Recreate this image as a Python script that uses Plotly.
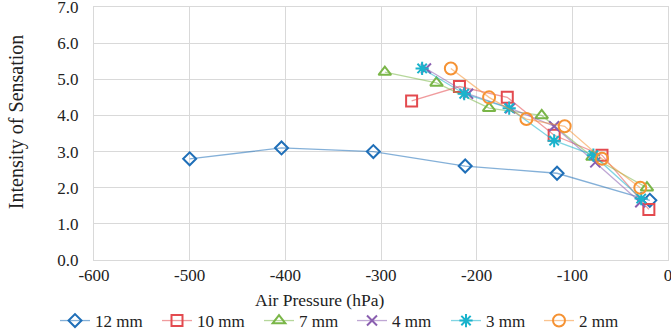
import plotly.graph_objects as go

names = ["12 mm", "10 mm", "7 mm", "4 mm", "3 mm", "2 mm"]
x12 = [-500, -404, -308, -212, -116, -19]
y12 = [2.8, 3.1, 3.0, 2.6, 2.4, 1.65]
x10 = [-268, -218, -168, -119, -69, -20]
y10 = [4.4, 4.8, 4.5, 3.45, 2.9, 1.4]
x7 = [-296, -242, -187, -132, -79, -22]
y7 = [5.2, 4.9, 4.2, 4.0, 2.85, 2.0]
x4 = [-253, -209, -165, -119, -76, -29]
y4 = [5.3, 4.6, 4.2, 3.7, 2.7, 1.6]
x3 = [-257, -213, -166, -119, -78, -28]
y3 = [5.3, 4.6, 4.2, 3.3, 2.9, 1.7]
x2 = [-227, -187, -148, -108, -69, -29]
y2 = [5.3, 4.5, 3.9, 3.7, 2.8, 2.0]

xtickvals = [-600, -500, -400, -300, -200, -100, 0]
xticktext = ["-600", "-500", "-400", "-300", "-200", "-100", "0"]
ytickvals = [0, 1, 2, 3, 4, 5, 6, 7]
yticktext = ["0.0", "1.0", "2.0", "3.0", "4.0", "5.0", "6.0", "7.0"]
x_title = "Air Pressure (hPa)"
y_title = "Intensity of Sensation"

xs = [x12, x10, x7, x4, x3, x2]
ys = [y12, y10, y7, y4, y3, y2]
colors = ["#1f6fb8", "#e34a4f", "#7ab648", "#8a5fb0", "#1ab3cc", "#f59233"]
linecolors = ["rgba(31,111,184,0.55)", "rgba(227,74,79,0.55)", "rgba(122,182,72,0.55)",
              "rgba(138,95,176,0.55)", "rgba(26,179,204,0.55)", "rgba(245,146,51,0.55)"]
symbols = ["diamond-open", "square-open", "triangle-up-open", "x-thin-open", "asterisk-open", "circle-open"]
sizes = [10, 11, 11, 10, 11, 12]
legend_px = [55, 157, 259, 352, 446, 539]

font = "Liberation Serif, Times New Roman, serif"
fig = go.Figure()
legends = {}
for i, (n, x, y, c, lc, s, sz) in enumerate(zip(names, xs, ys, colors, linecolors, symbols, sizes)):
    lg = "legend" if i == 0 else f"legend{i+1}"
    fig.add_trace(go.Scatter(
        x=x, y=y, name=n, mode="lines+markers", legend=lg,
        line=dict(color=lc, width=1.3),
        marker=dict(symbol=s, size=sz, color=c, line=dict(color=c, width=2)),
    ))
    legends[lg] = dict(orientation="h", x=legend_px[i] / 671, xref="container", xanchor="left",
                       y=(330 - 321) / 330, yref="container", yanchor="middle",
                       bgcolor="rgba(0,0,0,0)", font=dict(family=font, size=17, color="#222"),
                       itemwidth=30)

fig.update_layout(
    width=671, height=330,
    margin=dict(l=94, r=3, t=7, b=70, autoexpand=False),
    paper_bgcolor="white", plot_bgcolor="white",
    font=dict(family=font, size=17, color="#222"),
    showlegend=True,
    **legends,
)
fig.add_annotation(text=x_title, xref="paper", yref="paper",
                   x=(320 - 94) / 575, y=(260 - 300) / 253, xanchor="center", yanchor="middle",
                   showarrow=False, font=dict(family=font, size=17.5, color="#222"))
fig.add_annotation(text=y_title, xref="paper", yref="paper", textangle=-90,
                   x=(16 - 94) / 575, y=(260 - 122) / 253, xanchor="center", yanchor="middle",
                   showarrow=False, font=dict(family=font, size=20, color="#222"))
fig.update_xaxes(range=[-600, 0], tickvals=xtickvals, ticktext=xticktext, showgrid=True,
                 gridcolor="#d9d9d9", gridwidth=1, zeroline=False,
                 showline=True, linecolor="#d9d9d9", mirror=True, ticklabeloverflow="allow",
                 ticks="", tickfont=dict(family=font, size=17, color="#222"))
fig.update_yaxes(range=[0, 7], tickvals=ytickvals, ticktext=yticktext, showgrid=True,
                 gridcolor="#d9d9d9", gridwidth=1, zeroline=False,
                 showline=True, linecolor="#d9d9d9", mirror=True, ticklabeloverflow="allow",
                 ticks="", ticklabelstandoff=11, tickfont=dict(family=font, size=17, color="#222"))

fig.write_html("out.html", config={"displayModeBar": False},
               post_script="document.body.style.margin='0';")
